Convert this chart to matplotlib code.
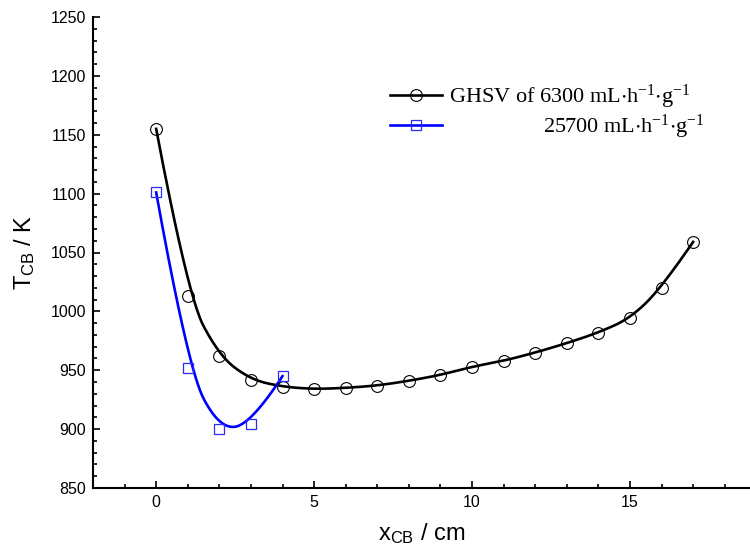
import numpy as np
import matplotlib
matplotlib.use("Agg")
import matplotlib.pyplot as plt
from matplotlib.lines import Line2D

# data
x_6300 = [0, 1, 2, 3, 4, 5, 6, 7, 8, 9, 10, 11, 12, 13, 14, 15, 16, 17]
t_6300 = [1155, 1013, 962, 942, 936, 934, 935, 937, 941, 946, 953, 958, 965, 973, 982, 994, 1020, 1059]
x_25700 = [0, 1, 2, 3, 4]
t_25700 = [1101, 952, 900, 904, 945]
label_6300 = "GHSV of 6300 mL$\\mathregular{\\cdot}$h$\\mathregular{^{-1}}$$\\mathregular{\\cdot}$g$\\mathregular{^{-1}}$"
label_25700 = "                 25700 mL$\\mathregular{\\cdot}$h$\\mathregular{^{-1}}$$\\mathregular{\\cdot}$g$\\mathregular{^{-1}}$"


def bspline(px, py, deg=2, num=400):
    P = np.column_stack([px, py]).astype(float)
    n = len(P)
    k = min(deg, n - 1)
    inner = np.arange(1, n - k)
    knots = np.concatenate([np.zeros(k + 1), inner, np.full(k + 1, n - k)]).astype(float)
    us = np.linspace(0, n - k, num)
    out = []
    for u in us:
        if u >= knots[n]:
            s = n - 1
        else:
            s = np.searchsorted(knots, u, side="right") - 1
        d = [P[j + s - k].copy() for j in range(k + 1)]
        for r in range(1, k + 1):
            for j in range(k, r - 1, -1):
                i = j + s - k
                den = knots[i + k + 1 - r] - knots[i]
                a = 0.0 if den == 0 else (u - knots[i]) / den
                d[j] = (1 - a) * d[j - 1] + a * d[j]
        out.append(d[k])
    out = np.array(out)
    return out[:, 0], out[:, 1]


fig = plt.figure(figsize=(7.5, 5.46), dpi=100)
ax = fig.add_axes([93 / 750, 1 - 488 / 546, 1 - 93 / 750, (488 - 17) / 546])

bx, by = bspline(x_6300, t_6300)
ax.plot(bx, by, color="black", lw=1.9, zorder=3)
ax.plot(x_6300, t_6300, ls="none", marker="o", ms=8.5, mfc="none", mec="black", mew=0.8, zorder=4)

cx, cy = bspline(x_25700, t_25700)
ax.plot(cx, cy, color="#0000ff", lw=1.9, zorder=3)
ax.plot(x_25700, t_25700, ls="none", marker="s", ms=7.5, mfc="none", mec="#2a2aff", mew=0.9, zorder=4)

h1 = Line2D([], [], color="black", lw=1.9, marker="o", ms=8.5, mfc="none", mec="black", mew=0.8)
h2 = Line2D([], [], color="#0000ff", lw=1.9, marker="s", ms=7.5, mfc="none", mec="#2a2aff", mew=0.9)
leg = ax.legend([h1, h2], [label_6300, label_25700], loc="upper left",
                bbox_to_anchor=((390 - 93) / 657, 1 - (83 - 17) / 471),
                frameon=False, handlelength=2.35, handletextpad=0.3, labelspacing=0.08,
                prop={"family": "Liberation Serif", "size": 16}, borderaxespad=0, borderpad=0)

ax.set_xlim(-2, 18.8)
ax.set_ylim(850, 1250)
ax.set_xticks([0, 5, 10, 15])
ax.set_xticks(np.arange(-1, 19, 1), minor=True)
ax.set_yticks(np.arange(850, 1251, 50))
ax.set_yticks(np.arange(850, 1251, 10), minor=True)
ax.tick_params(which="both", direction="in", width=1.2, labelsize=11.5)
ax.tick_params(which="major", length=5)
ax.tick_params(which="minor", length=3)
for lab in ax.get_xticklabels() + ax.get_yticklabels():
    lab.set_family("Liberation Sans")
ax.tick_params(axis="x", pad=5)
ax.tick_params(axis="y", pad=5)
ax.spines["top"].set_visible(False)
ax.spines["right"].set_visible(False)
ax.spines["left"].set_linewidth(1.5)
ax.spines["bottom"].set_linewidth(1.5)

ax.set_xlabel("x$\\mathregular{_{CB}}$ / cm", family="Liberation Sans", fontsize=17, labelpad=8)
ax.set_ylabel("T$\\mathregular{_{CB}}$ / K", family="Liberation Sans", fontsize=17, labelpad=10)

fig.savefig("out.png", dpi=100)
